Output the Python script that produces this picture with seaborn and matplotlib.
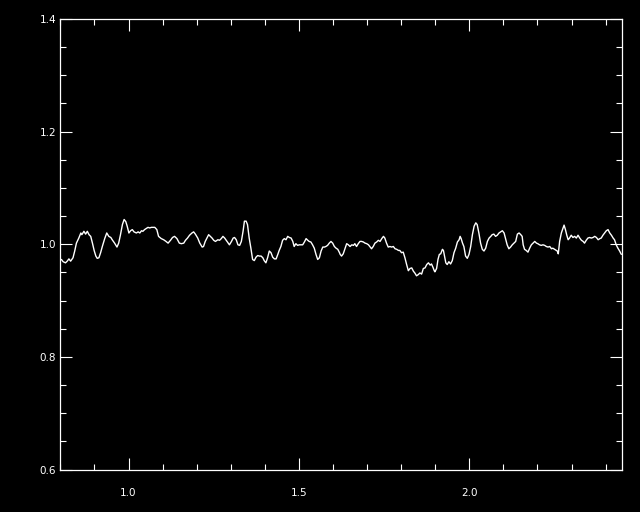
import numpy as np
import pandas as pd
import matplotlib
matplotlib.use("Agg")
import matplotlib.pyplot as plt
from matplotlib.ticker import MultipleLocator, FixedLocator
import seaborn as sns

wavelength = [
    0.803, 0.808, 0.815, 0.820, 0.825, 0.830, 0.837, 0.842, 0.847, 0.854, 0.860, 0.863, 0.869, 0.874, 0.879, 0.884,
    0.889, 0.894, 0.899, 0.904, 0.908, 0.913, 0.918, 0.923, 0.930, 0.936, 0.942, 0.948, 0.952, 0.959, 0.966, 0.971,
    0.976, 0.982, 0.987, 0.992, 0.996, 1.001, 1.006, 1.011, 1.016, 1.023, 1.028, 1.033, 1.038, 1.042, 1.047, 1.052,
    1.057, 1.062, 1.067,
    1.069, 1.077, 1.083, 1.088, 1.096, 1.103, 1.110, 1.116, 1.123, 1.129, 1.135, 1.142, 1.149, 1.155, 1.162, 1.167,
    1.173, 1.179, 1.186, 1.191, 1.196, 1.203, 1.209, 1.216, 1.220, 1.225, 1.230, 1.235, 1.240, 1.245, 1.250, 1.255,
    1.262, 1.267, 1.272, 1.277, 1.282, 1.289, 1.296, 1.302, 1.307, 1.311, 1.316, 1.321, 1.326, 1.331, 1.336, 1.340,
    1.345, 1.349, 1.354, 1.359, 1.364, 1.369, 1.374, 1.379, 1.384, 1.389, 1.394, 1.398, 1.403, 1.408, 1.413, 1.418,
    1.423, 1.428, 1.433, 1.438, 1.442, 1.447, 1.452, 1.457, 1.462, 1.467, 1.472, 1.477, 1.482, 1.486, 1.491, 1.496,
    1.501, 1.506, 1.511, 1.516, 1.521, 1.526, 1.530, 1.535, 1.540, 1.545, 1.550, 1.555, 1.560, 1.565, 1.570, 1.575,
    1.579, 1.584, 1.589, 1.594, 1.599, 1.604, 1.609, 1.614, 1.619,
    1.621, 1.625, 1.630, 1.635, 1.640, 1.645, 1.650, 1.655, 1.660, 1.664, 1.669, 1.674, 1.679, 1.684, 1.689, 1.694,
    1.699, 1.704, 1.708, 1.713, 1.718, 1.723, 1.728, 1.733, 1.738, 1.743, 1.748, 1.752, 1.757, 1.762, 1.767, 1.772,
    1.777, 1.782, 1.787, 1.792, 1.796, 1.801, 1.806, 1.811, 1.816, 1.821, 1.826, 1.831, 1.836, 1.840, 1.845, 1.850,
    1.855, 1.860, 1.865, 1.870, 1.875, 1.880, 1.885, 1.889, 1.894,
    1.897, 1.899, 1.904, 1.908, 1.912, 1.916, 1.921, 1.924, 1.928, 1.931, 1.935, 1.940, 1.945, 1.950, 1.955, 1.960,
    1.965, 1.970, 1.973, 1.976, 1.980, 1.984, 1.989, 1.994, 1.999, 2.004, 2.009, 2.014, 2.019, 2.023, 2.028, 2.033,
    2.038, 2.043, 2.048, 2.053, 2.058, 2.063, 2.067, 2.072, 2.077, 2.082, 2.087, 2.092, 2.097, 2.102, 2.107, 2.111,
    2.116, 2.121, 2.126, 2.131, 2.136, 2.141, 2.146, 2.151, 2.155, 2.158, 2.162, 2.167,
    2.172, 2.177, 2.182, 2.187, 2.192, 2.197, 2.201, 2.206, 2.211, 2.216, 2.221, 2.226, 2.231, 2.236, 2.241, 2.245,
    2.250, 2.255, 2.258, 2.261, 2.265, 2.270, 2.275, 2.278, 2.282, 2.286, 2.290, 2.294, 2.299, 2.304, 2.309, 2.314,
    2.319, 2.324, 2.329, 2.334, 2.338, 2.343, 2.348, 2.353, 2.358, 2.363, 2.368, 2.373, 2.378, 2.383, 2.387, 2.392,
    2.397, 2.402, 2.407, 2.412, 2.417, 2.422, 2.426, 2.431, 2.436, 2.441, 2.446,
]

flux = [
    0.973, 0.969, 0.967, 0.970, 0.974, 0.970, 0.976, 0.988, 1.002, 1.011, 1.020, 1.017, 1.023, 1.018, 1.023, 1.017,
    1.014, 1.002, 0.989, 0.979, 0.975, 0.976, 0.985, 0.996, 1.010, 1.020, 1.014, 1.012, 1.008, 1.002, 0.995, 1.002,
    1.016, 1.035, 1.044, 1.040, 1.032, 1.020, 1.024, 1.026, 1.022, 1.020, 1.022, 1.020, 1.024, 1.023, 1.026, 1.028,
    1.030, 1.029, 1.030,
    1.030, 1.030, 1.026, 1.014, 1.010, 1.008, 1.005, 1.002, 1.007, 1.012, 1.014, 1.010, 1.002, 1.001, 1.002, 1.007,
    1.011, 1.016, 1.020, 1.022, 1.018, 1.011, 1.002, 0.995, 0.996, 1.005, 1.011, 1.017, 1.014, 1.011, 1.007, 1.005,
    1.008, 1.007, 1.010, 1.014, 1.011, 1.005, 0.999, 1.005, 1.011, 1.012, 1.008, 0.999, 0.998, 1.005, 1.023, 1.041,
    1.041, 1.035, 1.011, 0.993, 0.973, 0.971, 0.977, 0.980, 0.979, 0.979, 0.976, 0.971, 0.967, 0.976, 0.988, 0.985,
    0.977, 0.974, 0.974, 0.982, 0.989, 0.996, 1.007, 1.010, 1.008, 1.014, 1.012, 1.011, 1.005, 0.996, 1.001, 0.998,
    0.999, 0.999, 0.999, 1.004, 1.010, 1.007, 1.005, 1.004, 0.999, 0.993, 0.982, 0.973, 0.976, 0.988, 0.995, 0.995,
    0.996, 0.998, 1.002, 1.005, 1.002, 0.996, 0.993, 0.991, 0.985,
    0.982, 0.979, 0.983, 0.992, 1.001, 0.999, 0.996, 0.999, 0.998, 1.001, 0.996, 1.001, 1.005, 1.005, 1.004, 1.002,
    1.001, 0.999, 0.996, 0.992, 0.996, 1.002, 1.004, 1.007, 1.005, 1.010, 1.014, 1.011, 1.002, 0.995, 0.996, 0.995,
    0.996, 0.992, 0.991, 0.989, 0.989, 0.985, 0.986, 0.976, 0.964, 0.953, 0.957, 0.958, 0.952, 0.949, 0.944, 0.946,
    0.949, 0.947, 0.957, 0.958, 0.964, 0.967, 0.963, 0.965, 0.958,
    0.953, 0.951, 0.957, 0.973, 0.982, 0.983, 0.991, 0.989, 0.976, 0.967, 0.964, 0.969, 0.965, 0.971, 0.985, 0.993,
    1.004, 1.008, 1.014, 1.010, 1.002, 0.996, 0.979, 0.975, 0.982, 0.996, 1.017, 1.032, 1.038, 1.035, 1.020, 1.002,
    0.991, 0.988, 0.993, 1.005, 1.011, 1.014, 1.017, 1.018, 1.014, 1.016, 1.020, 1.022, 1.024, 1.020, 1.008, 0.999,
    0.992, 0.995, 0.999, 1.002, 1.005, 1.018, 1.020, 1.017, 1.014, 0.999, 0.991, 0.989,
    0.986, 0.993, 0.999, 1.002, 1.005, 1.002, 1.001, 0.999, 0.998, 0.999, 0.998, 0.996, 0.995, 0.996, 0.992, 0.993,
    0.991, 0.989, 0.988, 0.983, 1.005, 1.020, 1.029, 1.034, 1.026, 1.016, 1.008, 1.011, 1.016, 1.012, 1.014, 1.011,
    1.016, 1.011, 1.007, 1.005, 1.002, 1.007, 1.011, 1.012, 1.011, 1.012, 1.014, 1.012, 1.008, 1.010, 1.011, 1.016,
    1.020, 1.024, 1.026, 1.020, 1.016, 1.011, 1.008, 0.999, 0.993, 0.988, 0.982,
]

y_ticks = [0.6, 0.8, 1.0, 1.2, 1.4]
y_tick_labels = ["0.6", "0.8", "1.0", "1.2", "1.4"]
x_ticks = [1.0, 1.5, 2.0]
x_tick_labels = ["1.0", "1.5", "2.0"]

df = pd.DataFrame({"wavelength": wavelength, "flux": flux})

sns.set_style("dark", {"axes.facecolor": "black", "figure.facecolor": "black",
                       "axes.edgecolor": "white", "grid.color": "black"})
plt.rcParams["font.family"] = ["DejaVu Sans"]

fig = plt.figure(figsize=(6.4, 5.12), dpi=100, facecolor="black")
ax = fig.add_axes([60.4 / 640, 42.5 / 512, 561.6 / 640, 450.5 / 512])
ax.set_facecolor("black")

sns.lineplot(data=df, x="wavelength", y="flux", color="white", linewidth=1.0,
             estimator=None, sort=False, ax=ax)

ax.set_xlim(0.8, 2.448)
ax.set_ylim(0.6, 1.4)
ax.xaxis.set_major_locator(FixedLocator(x_ticks))
ax.set_xticklabels(x_tick_labels)
ax.xaxis.set_minor_locator(MultipleLocator(0.1))
ax.yaxis.set_major_locator(FixedLocator(y_ticks))
ax.set_yticklabels(y_tick_labels)
ax.yaxis.set_minor_locator(MultipleLocator(0.05))

ax.tick_params(which="both", direction="in", colors="white", top=True, right=True,
               bottom=True, left=True, labelsize=7.5, width=0.8)
ax.tick_params(which="major", length=8.5)
ax.tick_params(which="minor", length=4.3)
ax.tick_params(axis="x", which="major", pad=13)
ax.tick_params(axis="y", which="major", pad=3)
for s in ax.spines.values():
    s.set_color("white")
    s.set_linewidth(0.9)
ax.set_xlabel("")
ax.set_ylabel("")
ax.grid(False)

fig.savefig("out.png", dpi=100, facecolor="black")
